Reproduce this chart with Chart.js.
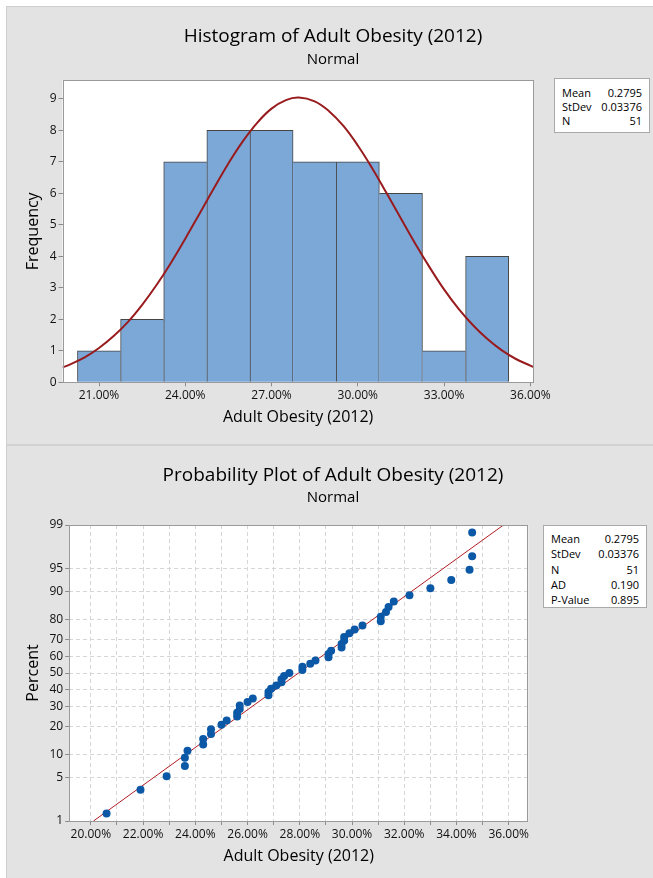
<!DOCTYPE html>
<html>
<head>
<meta charset="utf-8">
<script src="https://cdn.jsdelivr.net/npm/chart.js@4.4.1/dist/chart.umd.min.js"></script>
<style>
  html, body { margin: 0; padding: 0; background: #fff; }
  body { width: 653px; height: 878px; position: relative; overflow: hidden; font-family: 'Open Sans', sans-serif; }
  .panel { position: absolute; left: 6px; width: 647px; background: #e3e3e3; border-left: 1px solid #cfcfcf; box-sizing: border-box; }
  #p1 { top: 6px; height: 438px; border-top: 1px solid #cfcfcf; }
  #p2 { top: 444px; height: 434px; border-top: 2px solid #d2d2d2; }
  canvas { position: absolute; }
  .stats { position: absolute; background: #fff; border: 1px solid #a9a9a9; box-sizing: border-box; font-size: 11px; color: #000; padding: 0 7px; }
  .stats div { display: flex; justify-content: space-between; }
</style>
</head>
<body>
<div class="panel" id="p1"></div>
<div class="panel" id="p2"></div>
<canvas id="histChart" style="left:7px;top:7px;width:646px;height:437px"></canvas>
<canvas id="probChart" style="left:7px;top:446px;width:646px;height:432px"></canvas>

<div class="stats" style="left:554px;top:78px;width:96px;height:55px;padding-top:7px;line-height:14px">
  <div><span>Mean</span><span>0.2795</span></div>
  <div><span>StDev</span><span>0.03376</span></div>
  <div><span>N</span><span>51</span></div>
</div>
<div class="stats" style="left:543px;top:525px;width:104px;height:83px;padding-top:5px;line-height:15.3px">
  <div><span>Mean</span><span>0.2795</span></div>
  <div><span>StDev</span><span>0.03376</span></div>
  <div><span>N</span><span>51</span></div>
  <div><span>AD</span><span>0.190</span></div>
  <div><span>P-Value</span><span>0.895</span></div>
</div>

<script>
// --- histogram: bins of 1.5 points, counts
const binCenters = [21, 22.5, 24, 25.5, 27, 28.5, 30, 31.5, 33, 34.5];
const binCounts = [1, 2, 7, 8, 8, 7, 7, 6, 1, 4];

// fitted normal curve
const curveX = [19.73, 20, 20.5, 21, 21.5, 22, 22.5, 23, 23.5, 24, 24.5, 25, 25.5, 26, 26.5, 27, 27.5, 27.95,
  28.5, 29, 29.5, 30, 30.5, 31, 31.5, 32, 32.5, 33, 33.5, 34, 34.5, 35, 35.5, 36, 36.12];
const curveY = [0.47, 0.57, 0.79, 1.09, 1.46, 1.91, 2.46, 3.09, 3.79, 4.56, 5.36, 6.17, 6.95, 7.65, 8.24, 8.69, 8.96, 9.04,
  8.92, 8.61, 8.14, 7.52, 6.8, 6.01, 5.2, 4.4, 3.65, 2.95, 2.34, 1.82, 1.38, 1.02, 0.74, 0.53, 0.48];

const histXTicks = [21, 24, 27, 30, 33, 36];
const histYTicks = [0, 1, 2, 3, 4, 5, 6, 7, 8, 9];

// --- probability plot: obesity rate (%) against plotted percent
const obesityRates = [20.6, 21.9, 22.9, 23.6, 23.6, 23.7, 24.3, 24.3, 24.6, 24.6, 25.0, 25.2, 25.6, 25.6, 25.7, 25.7,
  26.0, 26.2, 26.8, 26.8, 26.9, 27.1, 27.3, 27.3, 27.4, 27.6, 28.1, 28.1, 28.4, 28.6, 29.1, 29.1, 29.2, 29.6, 29.6,
  29.7, 29.7, 29.9, 30.1, 30.4, 31.1, 31.1, 31.3, 31.4, 31.6, 32.2, 33.0, 33.8, 34.5, 34.6, 34.6];
const plotPercents = [1.36, 3.31, 5.25, 7.2, 9.14, 11.09, 13.04, 14.98, 16.93, 18.87, 20.82, 22.76, 24.71, 26.65,
  28.6, 30.54, 32.49, 34.44, 36.38, 38.33, 40.27, 42.22, 44.16, 46.11, 48.05, 50, 51.95, 53.89, 55.84, 57.78,
  59.73, 61.67, 63.62, 65.56, 67.51, 69.46, 71.4, 73.35, 75.29, 77.24, 79.18, 81.13, 83.07, 85.02, 86.96,
  88.91, 90.86, 92.8, 94.75, 96.69, 98.64];
const fitLineX = [20.1, 35.8];
const fitLineY = [1, 99];

const probXTicks = [20, 21, 22, 23, 24, 25, 26, 27, 28, 29, 30, 31, 32, 33, 34, 35, 36];
const probYTicks = [1, 5, 10, 20, 30, 40, 50, 60, 70, 80, 90, 95, 99];

const textColor = '#111';
Chart.defaults.font.family = "'Open Sans', sans-serif";
Chart.defaults.color = textColor;

// inverse normal cdf (Acklam) -> normal probability paper
function probit(p) {
  const a = [-39.69683028665376, 220.9460984245205, -275.9285104469687, 138.357751867269, -30.66479806614716, 2.506628277459239];
  const b = [-54.47609879822406, 161.5858368580409, -155.6989798598866, 66.80131188771972, -13.28068155288572];
  const c = [-0.007784894002430293, -0.3223964580411365, -2.400758277161838, -2.549732539343734, 4.374664141464968, 2.938163982698783];
  const d = [0.007784695709041462, 0.3224671290700398, 2.445134137142996, 3.754408661907416];
  const lo = 0.02425;
  if (p < lo || p > 1 - lo) {
    const q = Math.sqrt(-2 * Math.log(p < lo ? p : 1 - p));
    const v = (((((c[0] * q + c[1]) * q + c[2]) * q + c[3]) * q + c[4]) * q + c[5]) /
      ((((d[0] * q + d[1]) * q + d[2]) * q + d[3]) * q + 1);
    return p < lo ? v : -v;
  }
  const q = p - 0.5, r = q * q;
  return (((((a[0] * r + a[1]) * r + a[2]) * r + a[3]) * r + a[4]) * r + a[5]) * q /
    (((((b[0] * r + b[1]) * r + b[2]) * r + b[3]) * r + b[4]) * r + 1);
}
const pz = pct => probit(pct / 100);

// white plot area + grey frame
const plotFrame = {
  id: 'plotFrame',
  beforeDraw(chart) {
    const { ctx, chartArea: a } = chart;
    ctx.save();
    ctx.fillStyle = '#fff';
    ctx.fillRect(a.left, a.top, a.right - a.left, a.bottom - a.top);
    ctx.restore();
  },
  afterDatasetsDraw(chart) {
    const { ctx, chartArea: a } = chart;
    ctx.save();
    ctx.strokeStyle = '#9a9a9a';
    ctx.lineWidth = 1;
    ctx.strokeRect(Math.round(a.left) + 0.5, Math.round(a.top) + 0.5,
      Math.round(a.right - a.left) - 1, Math.round(a.bottom - a.top));
    ctx.restore();
  }
};

const tickFont = { size: 12 };
const axisTitleFont = { size: 16 };
const titleColor = '#000';

// empty right-hand axis that keeps room for the stats box
const spacer = w => ({
  type: 'linear', position: 'right', display: true,
  ticks: { display: false }, grid: { display: false }, border: { display: false },
  afterFit: s => { s.width = w; }
});

// 1) histogram
new Chart(document.getElementById('histChart'), {
  type: 'bar',
  data: {
    datasets: [{
      type: 'line',
      data: curveX.map((x, i) => ({ x, y: curveY[i] })),
      borderColor: '#981b1e',
      borderWidth: 2,
      pointRadius: 0,
      tension: 0.4,
      fill: false,
      order: 0
    }, {
      type: 'bar',
      data: binCenters.map((x, i) => ({ x, y: binCounts[i] })),
      backgroundColor: '#7ca8d8',
      borderColor: '#454545',
      borderWidth: ctx => {
        const i = ctx.dataIndex, n = binCounts.length;
        return {
          top: 1,
          bottom: 0,
          left: (i === 0 || binCounts[i - 1] <= binCounts[i]) ? 1 : 0,
          right: (i === n - 1 || binCounts[i + 1] < binCounts[i]) ? 1 : 0
        };
      },
      barPercentage: 1,
      categoryPercentage: 1,
      order: 1
    }]
  },
  options: {
    responsive: false,
    animation: false,
    layout: { padding: { top: 18.3, left: 6, right: 0, bottom: 13.4 } },
    plugins: {
      legend: { display: false },
      tooltip: { enabled: false },
      title: {
        display: true, text: 'Histogram of Adult Obesity (2012)', color: titleColor,
        font: { size: 19, weight: 'normal' }, padding: { top: 0, bottom: 2.9 }
      },
      subtitle: {
        display: true, text: 'Normal', color: titleColor,
        font: { size: 15 }, padding: { top: 0, bottom: 11.3 }
      }
    },
    scales: {
      x: {
        type: 'linear', min: 19.73, max: 36.12, offset: false,
        afterBuildTicks: s => { s.ticks = histXTicks.map(v => ({ value: v })); },
        afterFit: s => { s.height = 48.3; },
        ticks: { callback: v => v.toFixed(2) + '%', font: tickFont, color: textColor, padding: 2, maxRotation: 0, autoSkip: false },
        grid: { drawOnChartArea: false, tickLength: 4, color: '#8c8c8c', offset: false },
        border: { display: false },
        title: { display: true, text: 'Adult Obesity (2012)', font: axisTitleFont, color: titleColor, padding: { top: 0, bottom: 4 } }
      },
      y: {
        min: 0, max: 9.59,
        afterBuildTicks: s => { s.ticks = histYTicks.map(v => ({ value: v })); },
        afterFit: s => { s.width = 49.5; },
        ticks: { font: tickFont, color: textColor, padding: 2 },
        grid: { drawOnChartArea: false, tickLength: 4, color: '#8c8c8c' },
        border: { display: false },
        title: { display: true, text: 'Frequency', font: axisTitleFont, color: titleColor, padding: { top: 10.4, bottom: 0 } }
      },
      side: spacer(119.25)
    }
  },
  plugins: [plotFrame]
});

// 2) probability plot (percent axis on a normal-quantile scale)
new Chart(document.getElementById('probChart'), {
  type: 'scatter',
  data: {
    datasets: [{
      type: 'line',
      data: fitLineX.map((x, i) => ({ x, y: pz(fitLineY[i]) })),
      borderColor: '#b01e23',
      borderWidth: 1,
      pointRadius: 0,
      fill: false,
      order: 1
    }, {
      data: obesityRates.map((x, i) => ({ x, y: pz(plotPercents[i]) })),
      backgroundColor: '#0b58a6',
      borderWidth: 0,
      pointRadius: 4,
      order: 0
    }]
  },
  options: {
    responsive: false,
    animation: false,
    layout: { padding: { top: 18.6, left: 6, right: 0, bottom: 8.4 } },
    plugins: {
      legend: { display: false },
      tooltip: { enabled: false },
      title: {
        display: true, text: 'Probability Plot of Adult Obesity (2012)', color: titleColor,
        font: { size: 19, weight: 'normal' }, padding: { top: 0, bottom: 0.9 }
      },
      subtitle: {
        display: true, text: 'Normal', color: titleColor,
        font: { size: 15 }, padding: { top: 0, bottom: 18.7 }
      }
    },
    scales: {
      x: {
        type: 'linear', min: 19.17, max: 36.75,
        afterBuildTicks: s => { s.ticks = probXTicks.map(v => ({ value: v })); },
        afterFit: s => { s.height = 48.6; },
        ticks: {
          callback: (v, i) => probXTicks[i] % 2 === 0 ? probXTicks[i].toFixed(2) + '%' : '',
          font: tickFont, color: textColor, padding: 2, maxRotation: 0, autoSkip: false
        },
        grid: { color: '#d6d6d6', tickColor: '#8c8c8c', tickLength: 4 },
        border: { display: false, dash: [4, 3] },
        title: { display: true, text: 'Adult Obesity (2012)', font: axisTitleFont, color: titleColor, padding: { top: 0, bottom: 4 } }
      },
      y: {
        type: 'linear', min: pz(probYTicks[0]), max: pz(probYTicks[probYTicks.length - 1]),
        afterBuildTicks: s => { s.ticks = probYTicks.map(p => ({ value: pz(p) })); },
        afterFit: s => { s.width = 56.2; },
        ticks: { callback: (v, i) => String(probYTicks[i]), font: tickFont, color: textColor, padding: 2, autoSkip: false },
        grid: { color: '#d6d6d6', tickColor: '#8c8c8c', tickLength: 4 },
        border: { display: false, dash: [4, 3] },
        title: { display: true, text: 'Percent', font: axisTitleFont, color: titleColor, padding: { top: 10.4, bottom: 0 } }
      },
      side: spacer(124.7)
    }
  },
  plugins: [plotFrame]
});
</script>
</body>
</html>
